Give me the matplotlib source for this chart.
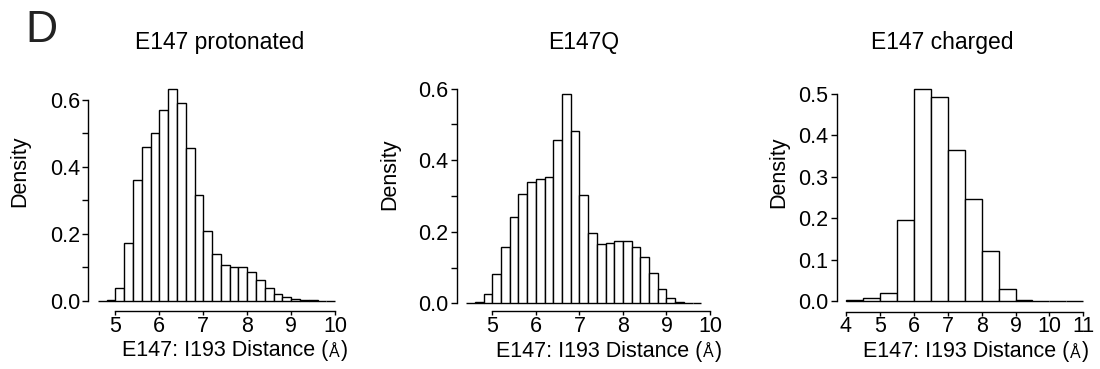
import numpy as np
import matplotlib.pyplot as plt

plt.rcParams['font.family'] = ['Liberation Sans', 'DejaVu Sans']

W, H = 1100, 369

# E147 protonated: bins of 0.2 starting at 4.6
prot_start = 4.6
prot_width = 0.2
prot_density = [0.0, 0.003, 0.040, 0.174, 0.361, 0.461, 0.500, 0.569, 0.632,
                0.590, 0.458, 0.315, 0.210, 0.139, 0.108, 0.100, 0.100, 0.087,
                0.063, 0.040, 0.022, 0.011, 0.006, 0.003, 0.002, 0.001, 0.0005]

# E147Q: bins of 0.2 starting at 4.4
q_start = 4.4
q_width = 0.2
q_density = [0.0, 0.003, 0.025, 0.083, 0.158, 0.242, 0.306, 0.338, 0.347,
             0.353, 0.457, 0.586, 0.483, 0.303, 0.196, 0.166, 0.168, 0.174,
             0.174, 0.158, 0.129, 0.084, 0.040, 0.014, 0.004, 0.002, 0.001]

# E147 charged: bins of 0.5 starting at 4.0
chg_start = 4.0
chg_width = 0.5
chg_density = [0.002, 0.009, 0.021, 0.196, 0.511, 0.492, 0.364, 0.246,
               0.121, 0.030, 0.004, 0.0015, 0.0005, 0.0002]

titles = ["E147 protonated", "E147Q", "E147 charged"]

fig = plt.figure(figsize=(W / 100, H / 100), dpi=100)


def px_axes(left, right, top, bottom):
    return fig.add_axes([left / W, 1 - bottom / H, (right - left) / W, (bottom - top) / H])


def draw_panel(ax, start, width, density, xlim, ylim, xticks, yticks, ylabels):
    edges = start + width * np.arange(len(density))
    ax.bar(edges, density, width=width, align='edge', facecolor='white',
           edgecolor='black', linewidth=1.0)
    ax.set_xlim(*xlim)
    ax.set_ylim(*ylim)
    ax.set_xticks(xticks)
    ax.set_xticklabels([str(t) for t in xticks])
    ax.set_yticks(yticks)
    ax.set_yticklabels(ylabels)
    for s in ['top', 'right']:
        ax.spines[s].set_visible(False)
    ax.spines['left'].set_bounds(yticks[0], yticks[-1])
    ax.spines['bottom'].set_bounds(xticks[0], xticks[-1])
    for s in ['left', 'bottom']:
        ax.spines[s].set_linewidth(1.0)
    ax.tick_params(axis='both', direction='out', width=1.0,
                   labelsize=15.5, colors='black')
    ax.tick_params(axis='y', length=4.3, pad=1.5)
    ax.tick_params(axis='x', length=3.0, pad=0.5)
    ax.patch.set_visible(False)


def draw_xlabel(ax, left, baseline):
    t1 = fig.text(left / W, 1 - baseline / H, "E147: I193 Distance (",
                  ha='left', va='baseline', fontsize=15.5)
    t2 = ax.annotate("Å", xy=(1, 0), xycoords=t1, xytext=(0.8, 3.2),
                     textcoords='offset points', ha='left', va='baseline',
                     fontsize=11.5, annotation_clip=False)
    ax.annotate(")", xy=(1, 0), xycoords=(t2, t1), xytext=(0.8, 0),
                textcoords='offset points', ha='left', va='bottom',
                fontsize=15.5, annotation_clip=False)


yt6 = [0.0, 0.1, 0.2, 0.3, 0.4, 0.5, 0.6]
yl6 = ["0.0", "", "0.2", "", "0.4", "", "0.6"]

ax1 = px_axes(88.2, 344.8, 80.8, 311.0)
draw_panel(ax1, prot_start, prot_width, prot_density, (4.384, 10.216),
           (-0.0299, 0.6573), [5, 6, 7, 8, 9, 10], yt6, yl6)

ax2 = px_axes(456.8, 710.7, 85.3, 311.0)
draw_panel(ax2, q_start, q_width, q_density, (4.184, 10.016),
           (-0.0215, 0.6094), [5, 6, 7, 8, 9, 10], yt6, yl6)

yt5 = [0.0, 0.1, 0.2, 0.3, 0.4, 0.5]
ax3 = px_axes(836.5, 1092.8, 81.0, 311.5)
draw_panel(ax3, chg_start, chg_width, chg_density, (3.72, 11.28),
           (-0.0246, 0.5314), [4, 5, 6, 7, 8, 9, 10, 11], yt5,
           ["0.0", "0.1", "0.2", "0.3", "0.4", "0.5"])

# titles
for x, t in zip([219.7, 584.0, 942.0], titles):
    fig.text(x / W, 1 - 49.5 / H, t, ha='center', va='baseline', fontsize=16.5)

# y labels
for x, y in [(20, 171), (390, 174), (779, 172.5)]:
    fig.text(x / W, 1 - y / H, "Density", rotation=90, ha='center', va='center',
             fontsize=15.5)

# x labels
draw_xlabel(ax1, 122, 356)
draw_xlabel(ax2, 496, 356.5)
draw_xlabel(ax3, 863, 357.5)

fig.text(25 / W, 1 - 42 / H, "D", ha='left', va='baseline', fontsize=32,
         color='#222222')

fig.savefig("out.png", dpi=100)
